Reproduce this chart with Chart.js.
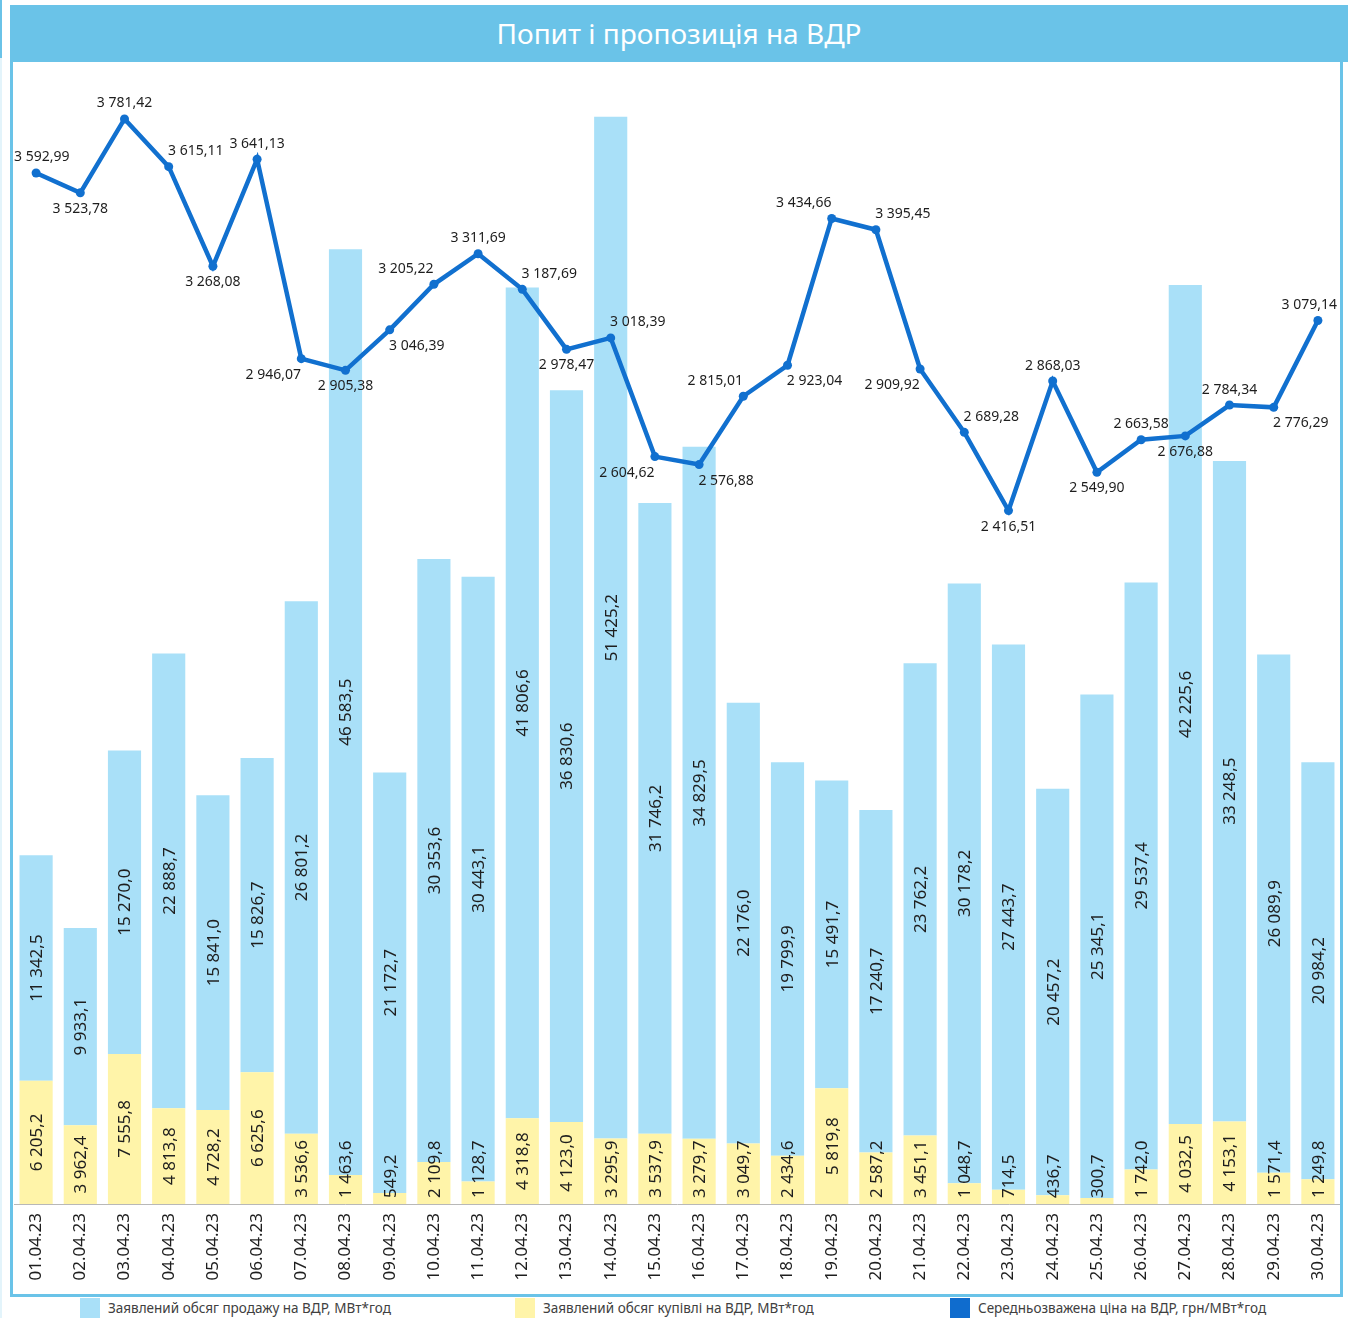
<!DOCTYPE html>
<html lang="uk">
<head>
<meta charset="utf-8">
<title>Попит і пропозиція на ВДР</title>
<script src="https://cdn.jsdelivr.net/npm/chart.js@4.4.0/dist/chart.umd.min.js"></script>
<style>
    html, body { margin: 0; padding: 0; background: #fff; }
    body { width: 1348px; height: 1318px; position: relative; overflow: hidden; font-family: "Noto Sans", sans-serif; }
    #strip { position: absolute; left: 0; top: 0; width: 2px; height: 58px; background: #6ac3e8; }
    #strip2 { position: absolute; left: 0; top: 58px; width: 2px; height: 1260px; background: #e3f4fb; }
    #banner {
        position: absolute; left: 10px; top: 5px; width: 1338px; height: 57px;
        background: #6ac3e8; color: #fff; font-size: 28px; line-height: 57px; text-align: center;
    }
    #frame {
        position: absolute; left: 10px; top: 60px; width: 1327px; height: 1234px;
        border: 3px solid #6ac3e8; border-top: none; pointer-events: none; z-index: 2;
    }
    #wrap { position: absolute; left: 0; top: 62px; width: 1348px; height: 1232px; }
    .leg { position: absolute; top: 1298px; height: 20px; font-size: 13.5px; color: #404040; line-height: 20px; white-space: nowrap; }
    .leg i { display: inline-block; width: 20px; height: 20px; vertical-align: top; margin-right: 8px; }
</style>
</head>
<body>
<div id="strip"></div>
<div id="strip2"></div>
<div id="banner">Попит і пропозиція на ВДР</div>
<div id="frame"></div>
<div id="wrap"><canvas id="chart"></canvas></div>
<div class="leg" style="left:80px"><i style="background:#a9e0f8"></i>Заявлений обсяг продажу на ВДР, МВт*год</div>
<div class="leg" style="left:515px"><i style="background:#fff4a9"></i>Заявлений обсяг купівлі на ВДР, МВт*год</div>
<div class="leg" style="left:950px"><i style="background:#0f6cce"></i>Середньозважена ціна на ВДР, грн/МВт*год</div>
<script>
// Dates (categories)
const days = [
    '01.04.23', '02.04.23', '03.04.23', '04.04.23', '05.04.23', '06.04.23', '07.04.23', '08.04.23',
    '09.04.23', '10.04.23', '11.04.23', '12.04.23', '13.04.23', '14.04.23', '15.04.23', '16.04.23',
    '17.04.23', '18.04.23', '19.04.23', '20.04.23', '21.04.23', '22.04.23', '23.04.23', '24.04.23',
    '25.04.23', '26.04.23', '27.04.23', '28.04.23', '29.04.23', '30.04.23'
];

// Declared sale volume, MWh
const saleVolume = [
    11342.5, 9933.1, 15270.0, 22888.7, 15841.0, 15826.7, 26801.2, 46583.5,
    21172.7, 30353.6, 30443.1, 41806.6, 36830.6, 51425.2, 31746.2, 34829.5,
    22176.0, 19799.9, 15491.7, 17240.7, 23762.2, 30178.2, 27443.7, 20457.2,
    25345.1, 29537.4, 42225.6, 33248.5, 26089.9, 20984.2
];

// Declared purchase volume, MWh
const buyVolume = [
    6205.2, 3962.4, 7555.8, 4813.8, 4728.2, 6625.6, 3536.6, 1463.6,
    549.2, 2109.8, 1128.7, 4318.8, 4123.0, 3295.9, 3537.9, 3279.7,
    3049.7, 2434.6, 5819.8, 2587.2, 3451.1, 1048.7, 714.5, 436.7,
    300.7, 1742.0, 4032.5, 4153.1, 1571.4, 1249.8
];

// Weighted average price, UAH/MWh
const avgPrice = [
    3592.99, 3523.78, 3781.42, 3615.11, 3268.08, 3641.13, 2946.07, 2905.38,
    3046.39, 3205.22, 3311.69, 3187.69, 2978.47, 3018.39, 2604.62, 2576.88,
    2815.01, 2923.04, 3434.66, 3395.45, 2909.92, 2689.28, 2416.51, 2868.03,
    2549.90, 2663.58, 2676.88, 2784.34, 2776.29, 3079.14
];

// where each price label sits relative to its point
const priceLabelSide = [
    'N', 'S', 'N', 'NE', 'S', 'N', 'SW', 'S', 'SE', 'NW', 'N', 'NE', 'S', 'NE', 'SW', 'SE',
    'NW', 'SE', 'NW', 'NE', 'SW', 'NE', 'S', 'N', 'S', 'N', 'S', 'N', 'SE', 'N'
];

// "3 592,99" style numbers
function fmt(v, digits) {
    const parts = v.toFixed(digits).split('.');
    const int = parts[0].replace(/\B(?=(\d{3})+(?!\d))/g, ' ');
    return int + ',' + parts[1];
}

const valueLabels = {
    id: 'valueLabels',
    afterDatasetsDraw(chart) {
        const ctx = chart.ctx;
        const area = chart.chartArea;
        const base = chart.scales.y.getPixelForValue(0);

        // bar labels, rotated, centered in each segment
        [0, 1].forEach(di => {
            const meta = chart.getDatasetMeta(di);
            const values = chart.data.datasets[di].data;
            meta.data.forEach((bar, i) => {
                const txt = fmt(values[i], 1);
                ctx.save();
                ctx.font = '17px "Noto Sans"';
                ctx.fillStyle = '#1e1e1e';
                const w = ctx.measureText(txt).width;
                const top = Math.min(bar.y, bar.base);
                const bottom = Math.max(bar.y, bar.base);
                let cy = (top + bottom) / 2;
                if (cy + w / 2 > base - 6) cy = base - 6 - w / 2;
                ctx.translate(bar.x, cy);
                ctx.rotate(-Math.PI / 2);
                ctx.textAlign = 'center';
                ctx.textBaseline = 'middle';
                ctx.fillText(txt, 0, 1);
                ctx.restore();
            });
        });

        // price labels
        const meta = chart.getDatasetMeta(2);
        ctx.save();
        ctx.font = '14px "Noto Sans"';
        ctx.fillStyle = '#1e1e1e';
        ctx.textAlign = 'center';
        ctx.textBaseline = 'middle';
        meta.data.forEach((pt, i) => {
            const txt = fmt(avgPrice[i], 2);
            const w = ctx.measureText(txt).width;
            const side = priceLabelSide[i];
            let dx = 0;
            let dy = side.startsWith('N') ? -15.5 : 16;
            if (side.endsWith('E')) dx = 27;
            if (side.endsWith('W')) dx = -28;
            let x = pt.x + dx;
            x = Math.max(x, area.left + w / 2);
            x = Math.min(x, area.right - w / 2 - 3);
            ctx.fillText(txt, x, pt.y + dy);
        });
        ctx.restore();
    }
};

const chart = new Chart(document.getElementById('chart'), {
    type: 'bar',
    data: {
        labels: days,
        datasets: [
            {
                label: 'Заявлений обсяг купівлі на ВДР, МВт*год',
                data: buyVolume,
                backgroundColor: '#fff4a9',
                yAxisID: 'y',
                order: 2,
                barPercentage: 0.75,
                categoryPercentage: 1
            },
            {
                label: 'Заявлений обсяг продажу на ВДР, МВт*год',
                data: saleVolume,
                backgroundColor: '#a9e0f8',
                yAxisID: 'y',
                order: 2,
                barPercentage: 0.75,
                categoryPercentage: 1
            },
            {
                type: 'line',
                label: 'Середньозважена ціна на ВДР, грн/МВт*год',
                data: avgPrice,
                yAxisID: 'y2',
                borderColor: '#1170cf',
                backgroundColor: '#1170cf',
                borderWidth: 4.5,
                pointRadius: 4.5,
                pointBackgroundColor: '#1170cf',
                pointBorderWidth: 0,
                tension: 0,
                order: 1
            }
        ]
    },
    options: {
        responsive: true,
        maintainAspectRatio: false,
        animation: false,
        layout: { padding: { left: 14, right: 8, top: 8, bottom: 0 } },
        plugins: {
            legend: { display: false },
            title: { display: false },
            tooltip: { enabled: false }
        },
        scales: {
            x: {
                stacked: true,
                grid: { display: false, drawTicks: false },
                border: { display: true, color: '#b8b8b8', dash: [2, 2], width: 1 },
                ticks: {
                    minRotation: 90,
                    maxRotation: 90,
                    padding: 9,
                    color: '#1e1e1e',
                    font: { family: 'Noto Sans', size: 17 }
                },
                afterFit(scale) { scale.height = 90; }
            },
            y: {
                display: false,
                stacked: true,
                min: 0,
                max: 57075
            },
            y2: {
                display: false,
                stacked: false,
                min: 0,
                max: 3952
            }
        }
    },
    plugins: [valueLabels]
});
</script>
</body>
</html>
